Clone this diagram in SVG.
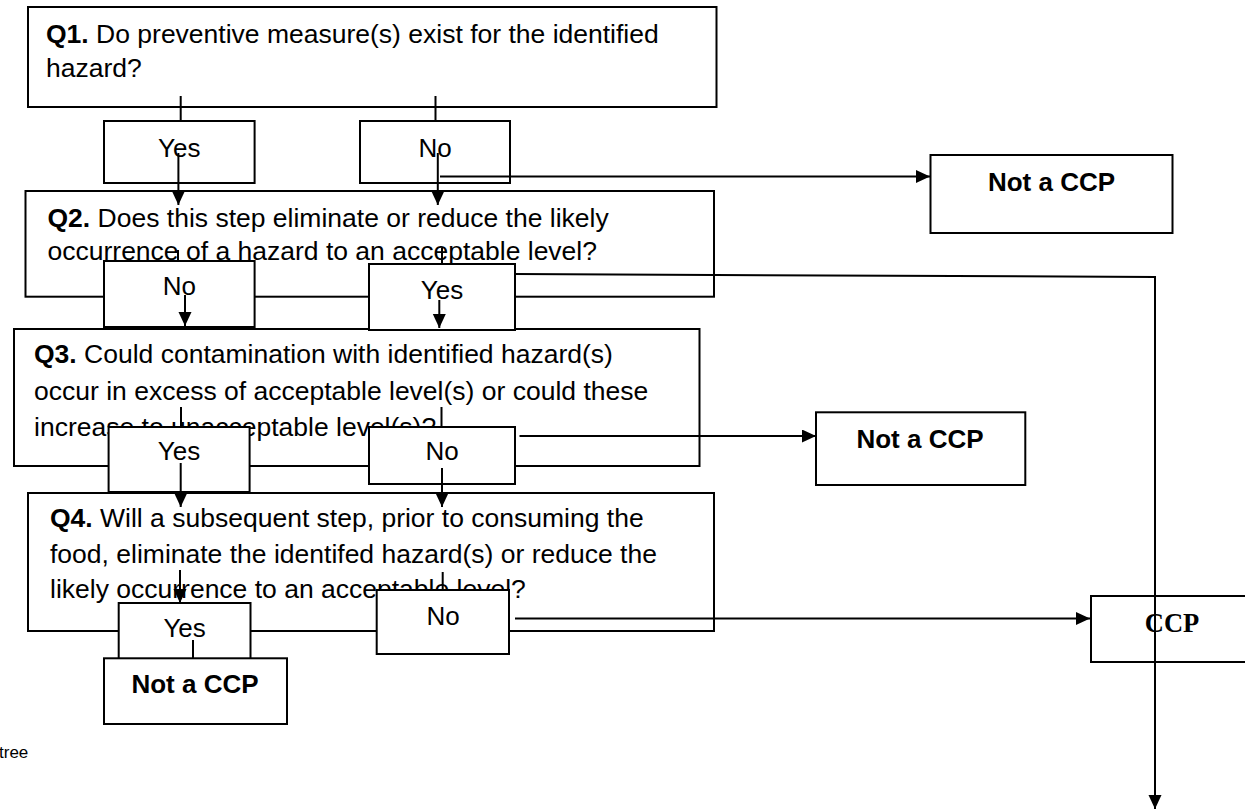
<svg xmlns="http://www.w3.org/2000/svg" width="1245" height="810" viewBox="0 0 1245 810">
<style>
.box{fill:#fff;stroke:#000;stroke-width:2}
.q{font-family:"Liberation Sans",Arial,sans-serif;font-size:26.5px;fill:#000}
.q .b{font-weight:bold}
.lbl{font-family:"Liberation Sans",Arial,sans-serif;font-size:26px;fill:#000;text-anchor:middle}
.res{font-family:"Liberation Sans",Arial,sans-serif;font-size:26px;font-weight:bold;fill:#000;text-anchor:middle}
.ccp{font-family:"Liberation Serif","Times New Roman",serif;font-size:26.5px;font-weight:bold;fill:#000;text-anchor:middle}
.ln{fill:none;stroke:#000;stroke-width:2}
.ar{fill:none;stroke:#000;stroke-width:2;marker-end:url(#ah)}
</style>
<defs>
<marker id="ah" markerUnits="userSpaceOnUse" markerWidth="15" markerHeight="14" refX="14" refY="6.5" orient="auto">
<path d="M0,0 L14,6.5 L0,13 z" fill="#000"/>
</marker>
</defs>
<rect width="1245" height="810" fill="#fff"/>

<g id="q1">
<rect class="box" x="28" y="7" width="688.5" height="100"/>
<text class="q" x="46" y="43"><tspan class="b">Q1.</tspan> Do preventive measure(s) exist for the identified</text>
<text class="q" x="46" y="77">hazard?</text>
</g>

<g id="q2">
<rect class="box" x="25.5" y="191" width="688.5" height="105.7"/>
<text class="q" x="47.5" y="227"><tspan class="b">Q2.</tspan> Does this step eliminate or reduce the likely</text>
<text class="q" x="47.5" y="260">occurrence of a hazard to an acceptable level?</text>
</g>

<g id="q3">
<rect class="box" x="14" y="329" width="685.5" height="137"/>
<text class="q" x="34" y="363"><tspan class="b">Q3.</tspan> Could contamination with identified hazard(s)</text>
<text class="q" x="34" y="400">occur in excess of acceptable level(s) or could these</text>
<text class="q" x="34" y="436">increase to unacceptable level(s)?</text>
</g>

<g id="q4">
<rect class="box" x="28" y="493" width="686" height="138"/>
<text class="q" x="50" y="527"><tspan class="b">Q4.</tspan> Will a subsequent step, prior to consuming the</text>
<text class="q" x="50" y="563">food, eliminate the identifed hazard(s) or reduce the</text>
<text class="q" x="50" y="598">likely occurrence to an acceptable level?</text>
</g>

<g id="ticks">
<path class="ln" d="M180.7,96 V121 M435.5,96 V121"/>
<path class="ln" d="M178,250 V261 M442,248 V264"/>
<path class="ln" d="M181,407 V427 M441.5,407 V427"/>
<path class="ln" d="M442.7,572 V590"/>
</g>

<g id="q1-yes">
<rect class="box" x="104" y="121" width="150.6" height="62"/>
<text class="lbl" x="179.3" y="157">Yes</text>
</g>
<g id="q1-no">
<rect class="box" x="360" y="121" width="150" height="62"/>
<text class="lbl" x="435" y="157">No</text>
</g>
<g id="q2-no">
<rect class="box" x="104" y="261" width="150.6" height="66"/>
<text class="lbl" x="179.3" y="295">No</text>
</g>
<g id="q2-yes">
<rect class="box" x="369" y="264" width="146" height="66"/>
<text class="lbl" x="442" y="299">Yes</text>
</g>
<g id="q3-yes">
<rect class="box" x="108.6" y="427" width="141" height="65"/>
<text class="lbl" x="179" y="460">Yes</text>
</g>
<g id="q3-no">
<rect class="box" x="369" y="427" width="146" height="57"/>
<text class="lbl" x="442" y="460">No</text>
</g>
<g id="q4-no">
<rect class="box" x="376.7" y="590" width="132.3" height="64"/>
<text class="lbl" x="443" y="625">No</text>
</g>
<g id="q4-yes">
<rect class="box" x="118.7" y="603" width="131.8" height="60"/>
<text class="lbl" x="184.6" y="637">Yes</text>
</g>

<g id="not-ccp-1">
<rect class="box" x="930.5" y="155" width="242" height="78"/>
<text class="res" x="1051.5" y="191">Not a CCP</text>
</g>
<g id="not-ccp-2">
<rect class="box" x="816" y="412.3" width="209.3" height="72.7"/>
<text class="res" x="920" y="448">Not a CCP</text>
</g>
<g id="not-ccp-3">
<rect class="box" x="104" y="658.3" width="183" height="65.7"/>
<text class="res" x="195" y="693">Not a CCP</text>
</g>
<g id="ccp">
<rect class="box" x="1091" y="596" width="170" height="66"/>
<text class="ccp" x="1172" y="632">CCP</text>
</g>

<g id="connectors">
<path class="ar" d="M178.4,153 V205"/>
<path class="ar" d="M437.8,153 V205"/>
<path class="ar" d="M440,176.5 H930"/>
<path class="ar" d="M185,295 V326"/>
<path class="ar" d="M439.3,300 V328"/>
<path class="ar" d="M515,274 L1155,277 V809"/>
<path class="ar" d="M180.7,463 V507"/>
<path class="ar" d="M442,468 V507"/>
<path class="ar" d="M519.5,436 H816"/>
<path class="ar" d="M180,570 V603"/>
<path class="ln" d="M193,640 V658.3"/>
<path class="ar" d="M515,618.5 H1090"/>
</g>

<text x="-1" y="758" font-family="'Liberation Sans',Arial,sans-serif" font-size="17" fill="#000">tree</text>
</svg>
